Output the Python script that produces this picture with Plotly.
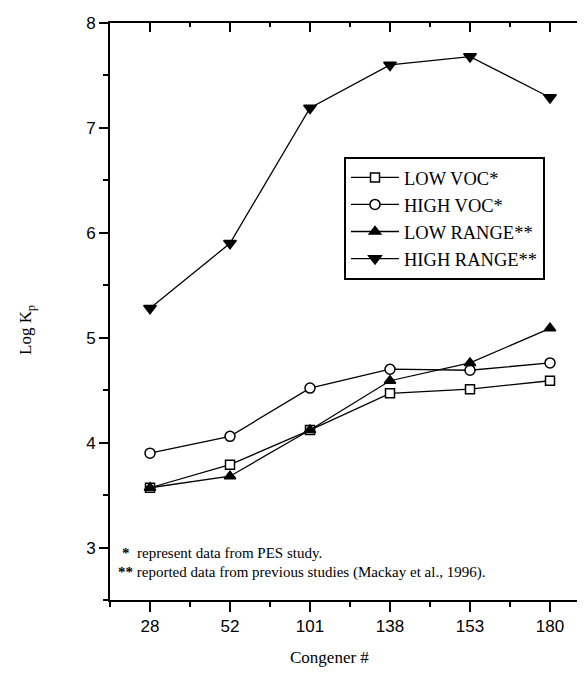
import plotly.graph_objects as go

congeners = ["28", "52", "101", "138", "153", "180"]
low_voc = [3.57, 3.79, 4.12, 4.47, 4.51, 4.59]
high_voc = [3.90, 4.06, 4.52, 4.70, 4.69, 4.76]
low_range = [3.57, 3.68, 4.12, 4.59, 4.76, 5.09]
high_range = [5.28, 5.90, 7.19, 7.60, 7.68, 7.29]

series_names = ["LOW VOC*", "HIGH VOC*", "LOW RANGE**", "HIGH RANGE**"]
series_values = [low_voc, high_voc, low_range, high_range]
symbols = ["square", "circle", "triangle-up", "triangle-down"]
fills = ["white", "white", "black", "black"]
sizes = [9, 10, 10, 11]

xpos = list(range(len(congeners)))

fig = go.Figure()
for name, vals, sym, fc, sz in zip(series_names, series_values, symbols, fills, sizes):
    fig.add_trace(go.Scatter(
        x=xpos, y=vals, name=name, mode="lines+markers",
        line=dict(color="black", width=1.3),
        marker=dict(symbol=sym, size=sz, color=fc, line=dict(color="black", width=1.5)),
    ))

# dummy trace for overlay axes (top / right ticks)
fig.add_trace(go.Scatter(x=[None], y=[None], xaxis="x2", yaxis="y2", showlegend=False, hoverinfo="skip"))

xr = [-0.5, 5.5]
yr = [2.5, 8.0]

fig.update_layout(
    width=582, height=665,
    margin=dict(l=102, r=0, t=15, b=73),
    plot_bgcolor="white", paper_bgcolor="white",
    showlegend=True,
    legend=dict(
        x=0.4875, y=0.768, xanchor="left", yanchor="top",
        bordercolor="black", borderwidth=2, bgcolor="white",
        font=dict(family="Liberation Serif", size=18.5, color="black"),
        tracegroupgap=0, itemwidth=48,
    ),
    xaxis=dict(
        range=xr, tickmode="array", tickvals=xpos, ticktext=congeners,
        showline=True, linecolor="black", linewidth=2,
        ticks="outside", ticklen=10, tickwidth=1.5, tickcolor="black",
        minor=dict(dtick=0.5, tick0=0, ticks="outside", ticklen=5, tickwidth=1.5, tickcolor="black"),
        showgrid=False, zeroline=False,
        tickfont=dict(family="Liberation Sans", size=17, color="black"),
    ),
    yaxis=dict(
        range=yr, dtick=1, tick0=0,
        showline=True, linecolor="black", linewidth=2,
        ticks="outside", ticklen=9, tickwidth=1.5, tickcolor="black",
        minor=dict(dtick=0.5, tick0=0, ticks="outside", ticklen=5, tickwidth=1.5, tickcolor="black"),
        showgrid=False, zeroline=False,
        tickfont=dict(family="Liberation Sans", size=17, color="black"),
    ),
    xaxis2=dict(
        range=xr, overlaying="x", side="top", anchor="y",
        tickmode="array", tickvals=xpos, showticklabels=False,
        showline=True, linecolor="black", linewidth=2,
        ticks="inside", ticklen=9, tickwidth=1.5, tickcolor="black",
        minor=dict(dtick=0.5, tick0=0, ticks="inside", ticklen=4, tickwidth=1.5, tickcolor="black"),
        showgrid=False, zeroline=False,
    ),
    yaxis2=dict(
        range=yr, overlaying="y", side="right", anchor="x",
        dtick=0.5, tick0=0, showticklabels=False, showline=False,
        ticks="inside", ticklen=6, tickwidth=1.5, tickcolor="black",
        showgrid=False, zeroline=False,
    ),
)

# axis titles
fig.add_annotation(
    xref="paper", yref="paper", x=0.458, y=-0.10, xanchor="center", yanchor="middle",
    text="Congener #", showarrow=False,
    font=dict(family="Liberation Serif", size=17, color="black"),
)
fig.add_annotation(
    xref="paper", yref="paper", x=-0.173, y=0.468, xanchor="center", yanchor="middle",
    text="Log K<sub>p</sub>", showarrow=False, textangle=-90,
    font=dict(family="Liberation Serif", size=17, color="black"),
)

# footnotes
fig.add_annotation(
    xref="paper", yref="paper", x=0.021, y=0.0815, xanchor="left", yanchor="middle",
    text="<b>*</b>  represent data from PES study.", showarrow=False,
    font=dict(family="Liberation Serif", size=15, color="black"),
)
fig.add_annotation(
    xref="paper", yref="paper", x=0.0125, y=0.0468, xanchor="left", yanchor="middle",
    text="<b>**</b> reported data from previous studies (Mackay et al., 1996).", showarrow=False,
    font=dict(family="Liberation Serif", size=15, color="black"),
)

fig.write_html("out.html")
